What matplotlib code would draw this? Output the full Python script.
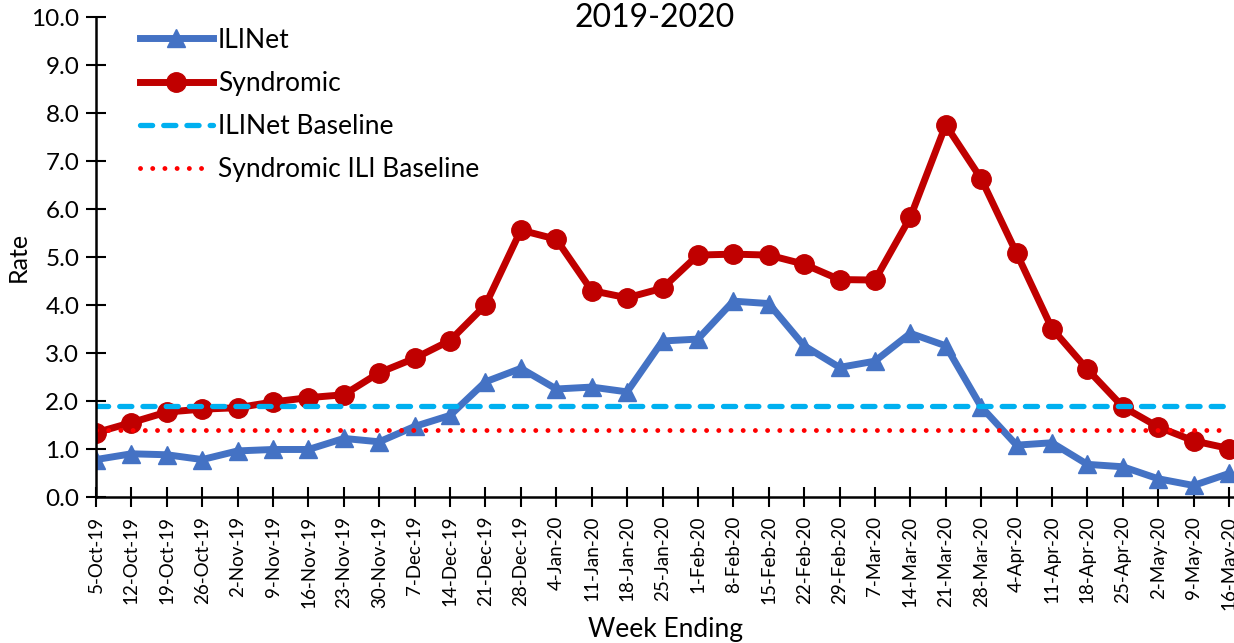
import numpy as np
import matplotlib
matplotlib.use("Agg")
from matplotlib import pyplot as plt
from matplotlib.ticker import FormatStrFormatter

plt.rcParams['font.family'] = ['Lato', 'DejaVu Sans']

#Week ending labels
weeks = ['5-Oct-19', '12-Oct-19', '19-Oct-19', '26-Oct-19', '2-Nov-19', '9-Nov-19',
         '16-Nov-19', '23-Nov-19', '30-Nov-19', '7-Dec-19', '14-Dec-19', '21-Dec-19',
         '28-Dec-19', '4-Jan-20', '11-Jan-20', '18-Jan-20', '25-Jan-20', '1-Feb-20',
         '8-Feb-20', '15-Feb-20', '22-Feb-20', '29-Feb-20', '7-Mar-20', '14-Mar-20',
         '21-Mar-20', '28-Mar-20', '4-Apr-20', '11-Apr-20', '18-Apr-20', '25-Apr-20',
         '2-May-20', '9-May-20', '16-May-20']

#Rates
ilinet = [0.78, 0.90, 0.88, 0.78, 0.96, 0.99, 0.99, 1.22, 1.15, 1.47, 1.70, 2.40,
          2.68, 2.25, 2.29, 2.19, 3.25, 3.29, 4.08, 4.03, 3.15, 2.70, 2.83, 3.41,
          3.15, 1.88, 1.08, 1.13, 0.68, 0.63, 0.38, 0.24, 0.49]
syndromic = [1.34, 1.55, 1.77, 1.83, 1.86, 1.98, 2.07, 2.13, 2.59, 2.89, 3.26, 4.00,
             5.56, 5.37, 4.30, 4.15, 4.35, 5.04, 5.06, 5.04, 4.85, 4.53, 4.52, 5.83,
             7.75, 6.63, 5.08, 3.51, 2.66, 1.88, 1.46, 1.17, 1.01]
ilinet_baseline = 1.9
syndromic_baseline = 1.4

x = np.arange(len(weeks))

fig = plt.figure(figsize=(12.34, 6.43), dpi=100)
ax = fig.add_axes([96 / 1234, 1 - 497 / 643, 1 - 96 / 1234, 480 / 643])

#Plot the series
ax.plot(x, ilinet, color='#4472C4', lw=5, marker='^', ms=13, label='ILINet')
ax.plot(x, syndromic, color='#C00000', lw=5, marker='o', ms=14, label='Syndromic')
ax.plot(x, [ilinet_baseline] * len(x), color='#00B0F0', lw=3.8, ls=(0, (2.3, 2.1)),
        dash_capstyle='round', label='ILINet Baseline')
ax.plot(x, [syndromic_baseline] * len(x), color='#FF0000', lw=3.5, ls=(0, (0.01, 2.5)),
        dash_capstyle='round', label='Syndromic ILI Baseline')

#Format plot
ax.set_xlim(0, 32 * 1138 / 1133)
ax.set_ylim(0, 10)
ax.set_yticks(np.arange(0, 10.5, 1))
ax.yaxis.set_major_formatter(FormatStrFormatter('%.1f'))
ax.set_xticks(x)
ax.set_xticklabels(weeks, rotation=90, fontsize=13.5)
ax.tick_params(axis='y', labelsize=17.5, pad=5)
ax.tick_params(axis='x', pad=6.5)
ax.tick_params(axis='both', direction='inout', length=14, width=1.5, color='black')
for side in ['top', 'right']:
    ax.spines[side].set_visible(False)
for side in ['left', 'bottom']:
    ax.spines[side].set_linewidth(1.8)

fig.text(655 / 1234, 1 - 18 / 643, '2019-2020', fontsize=23, ha='center', va='center')
ax.set_xlabel('Week Ending', fontsize=19)
ax.xaxis.set_label_coords(0.5, -0.25)
ax.set_ylabel('Rate', fontsize=18, labelpad=1)

ax.legend(loc='upper left', bbox_to_anchor=(44 / 1138, 0.978), frameon=False, fontsize=19,
          borderaxespad=0, borderpad=0, handlelength=2.75, handletextpad=0.2,
          labelspacing=0.69)

fig.savefig('out.png', dpi=100)
